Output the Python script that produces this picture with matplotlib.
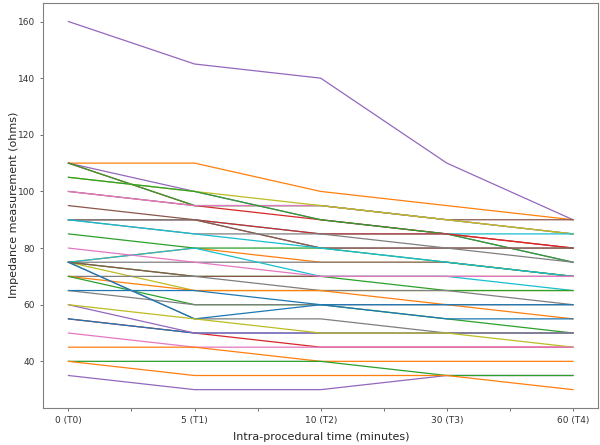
import matplotlib
matplotlib.use("Agg")
import matplotlib.pyplot as plt
from matplotlib.ticker import FixedLocator, FixedFormatter

time_labels = ["0 (T0)", "5 (T1)", "10 (T2)", "30 (T3)", "60 (T4)"]

# impedance readings (ohms) at T0..T4, drawn in this order
impedance_series = [
    [160, 145, 140, 110, 90],
    [110, 110, 100, 95, 90],
    [110, 100, 90, 85, 75],
    [100, 95, 95, 90, 90],
    [110, 95, 90, 85, 80],
    [110, 95, 95, 90, 85],
    [100, 95, 95, 90, 85],
    [105, 100, 95, 90, 85],
    [105, 100, 90, 85, 75],
    [90, 90, 85, 85, 85],
    [90, 90, 85, 85, 80],
    [90, 90, 80, 80, 80],
    [95, 90, 80, 80, 80],
    [90, 85, 85, 80, 75],
    [75, 80, 75, 75, 70],
    [75, 75, 75, 75, 70],
    [85, 80, 80, 75, 70],
    [90, 85, 80, 75, 70],
    [75, 80, 70, 70, 65],
    [75, 65, 65, 65, 65],
    [75, 70, 70, 65, 65],
    [75, 70, 70, 70, 70],
    [80, 75, 70, 70, 70],
    [70, 70, 65, 65, 60],
    [70, 65, 65, 60, 55],
    [70, 60, 60, 55, 50],
    [65, 60, 60, 60, 60],
    [65, 65, 60, 60, 60],
    [55, 50, 45, 45, 45],
    [55, 50, 50, 50, 50],
    [60, 50, 50, 50, 50],
    [75, 55, 55, 50, 50],
    [75, 55, 60, 55, 55],
    [60, 55, 50, 50, 45],
    [50, 45, 45, 45, 45],
    [45, 45, 40, 40, 40],
    [35, 30, 30, 35, 35],
    [40, 40, 40, 35, 35],
    [40, 35, 35, 35, 30],
]

series_colors = [
    "tab:purple", "tab:orange", "tab:purple", "tab:brown", "tab:red",
    "tab:green", "tab:pink", "tab:olive", "tab:green", "tab:cyan",
    "tab:red", "tab:gray", "tab:brown", "tab:gray", "tab:orange",
    "tab:gray", "tab:green", "tab:cyan", "tab:cyan", "tab:olive",
    "tab:green", "tab:brown", "tab:pink", "tab:gray", "tab:orange",
    "tab:green", "tab:gray", "tab:blue", "tab:red", "tab:blue",
    "tab:purple", "tab:gray", "tab:blue", "tab:olive", "tab:pink",
    "tab:orange", "tab:purple", "tab:green", "tab:orange",
]

y_ticks = [40, 60, 80, 100, 120, 140, 160]

fig = plt.figure(figsize=(6.0, 4.45), dpi=100)
ax = fig.add_axes([0.072, 0.083, 0.925, 0.91])

x_pos = list(range(len(time_labels)))
for vals, col in zip(impedance_series, series_colors):
    ax.plot(x_pos, vals, color=col, linewidth=0.9)

major = [i * 0.5 for i in range(2 * len(time_labels) - 1)]
labels = []
for m in major:
    labels.append(time_labels[int(m)] if float(m).is_integer() else "")
ax.xaxis.set_major_locator(FixedLocator(major))
ax.xaxis.set_major_formatter(FixedFormatter(labels))
ax.set_yticks(y_ticks)

ax.tick_params(axis="both", labelsize=6.5, length=2.5, width=0.6,
               colors="0.35", labelcolor="0.2")
for sp in ax.spines.values():
    sp.set_color("0.5")
    sp.set_linewidth(0.8)

fig.text(0.535, 0.018, "Intra-procedural time (minutes)", fontsize=8,
         color="0.15", ha="center", va="center")
fig.text(0.023, 0.54, "Impedance measurement (ohms)", fontsize=8,
         color="0.15", ha="center", va="center", rotation=90)

fig.savefig("out.png", dpi=100)
